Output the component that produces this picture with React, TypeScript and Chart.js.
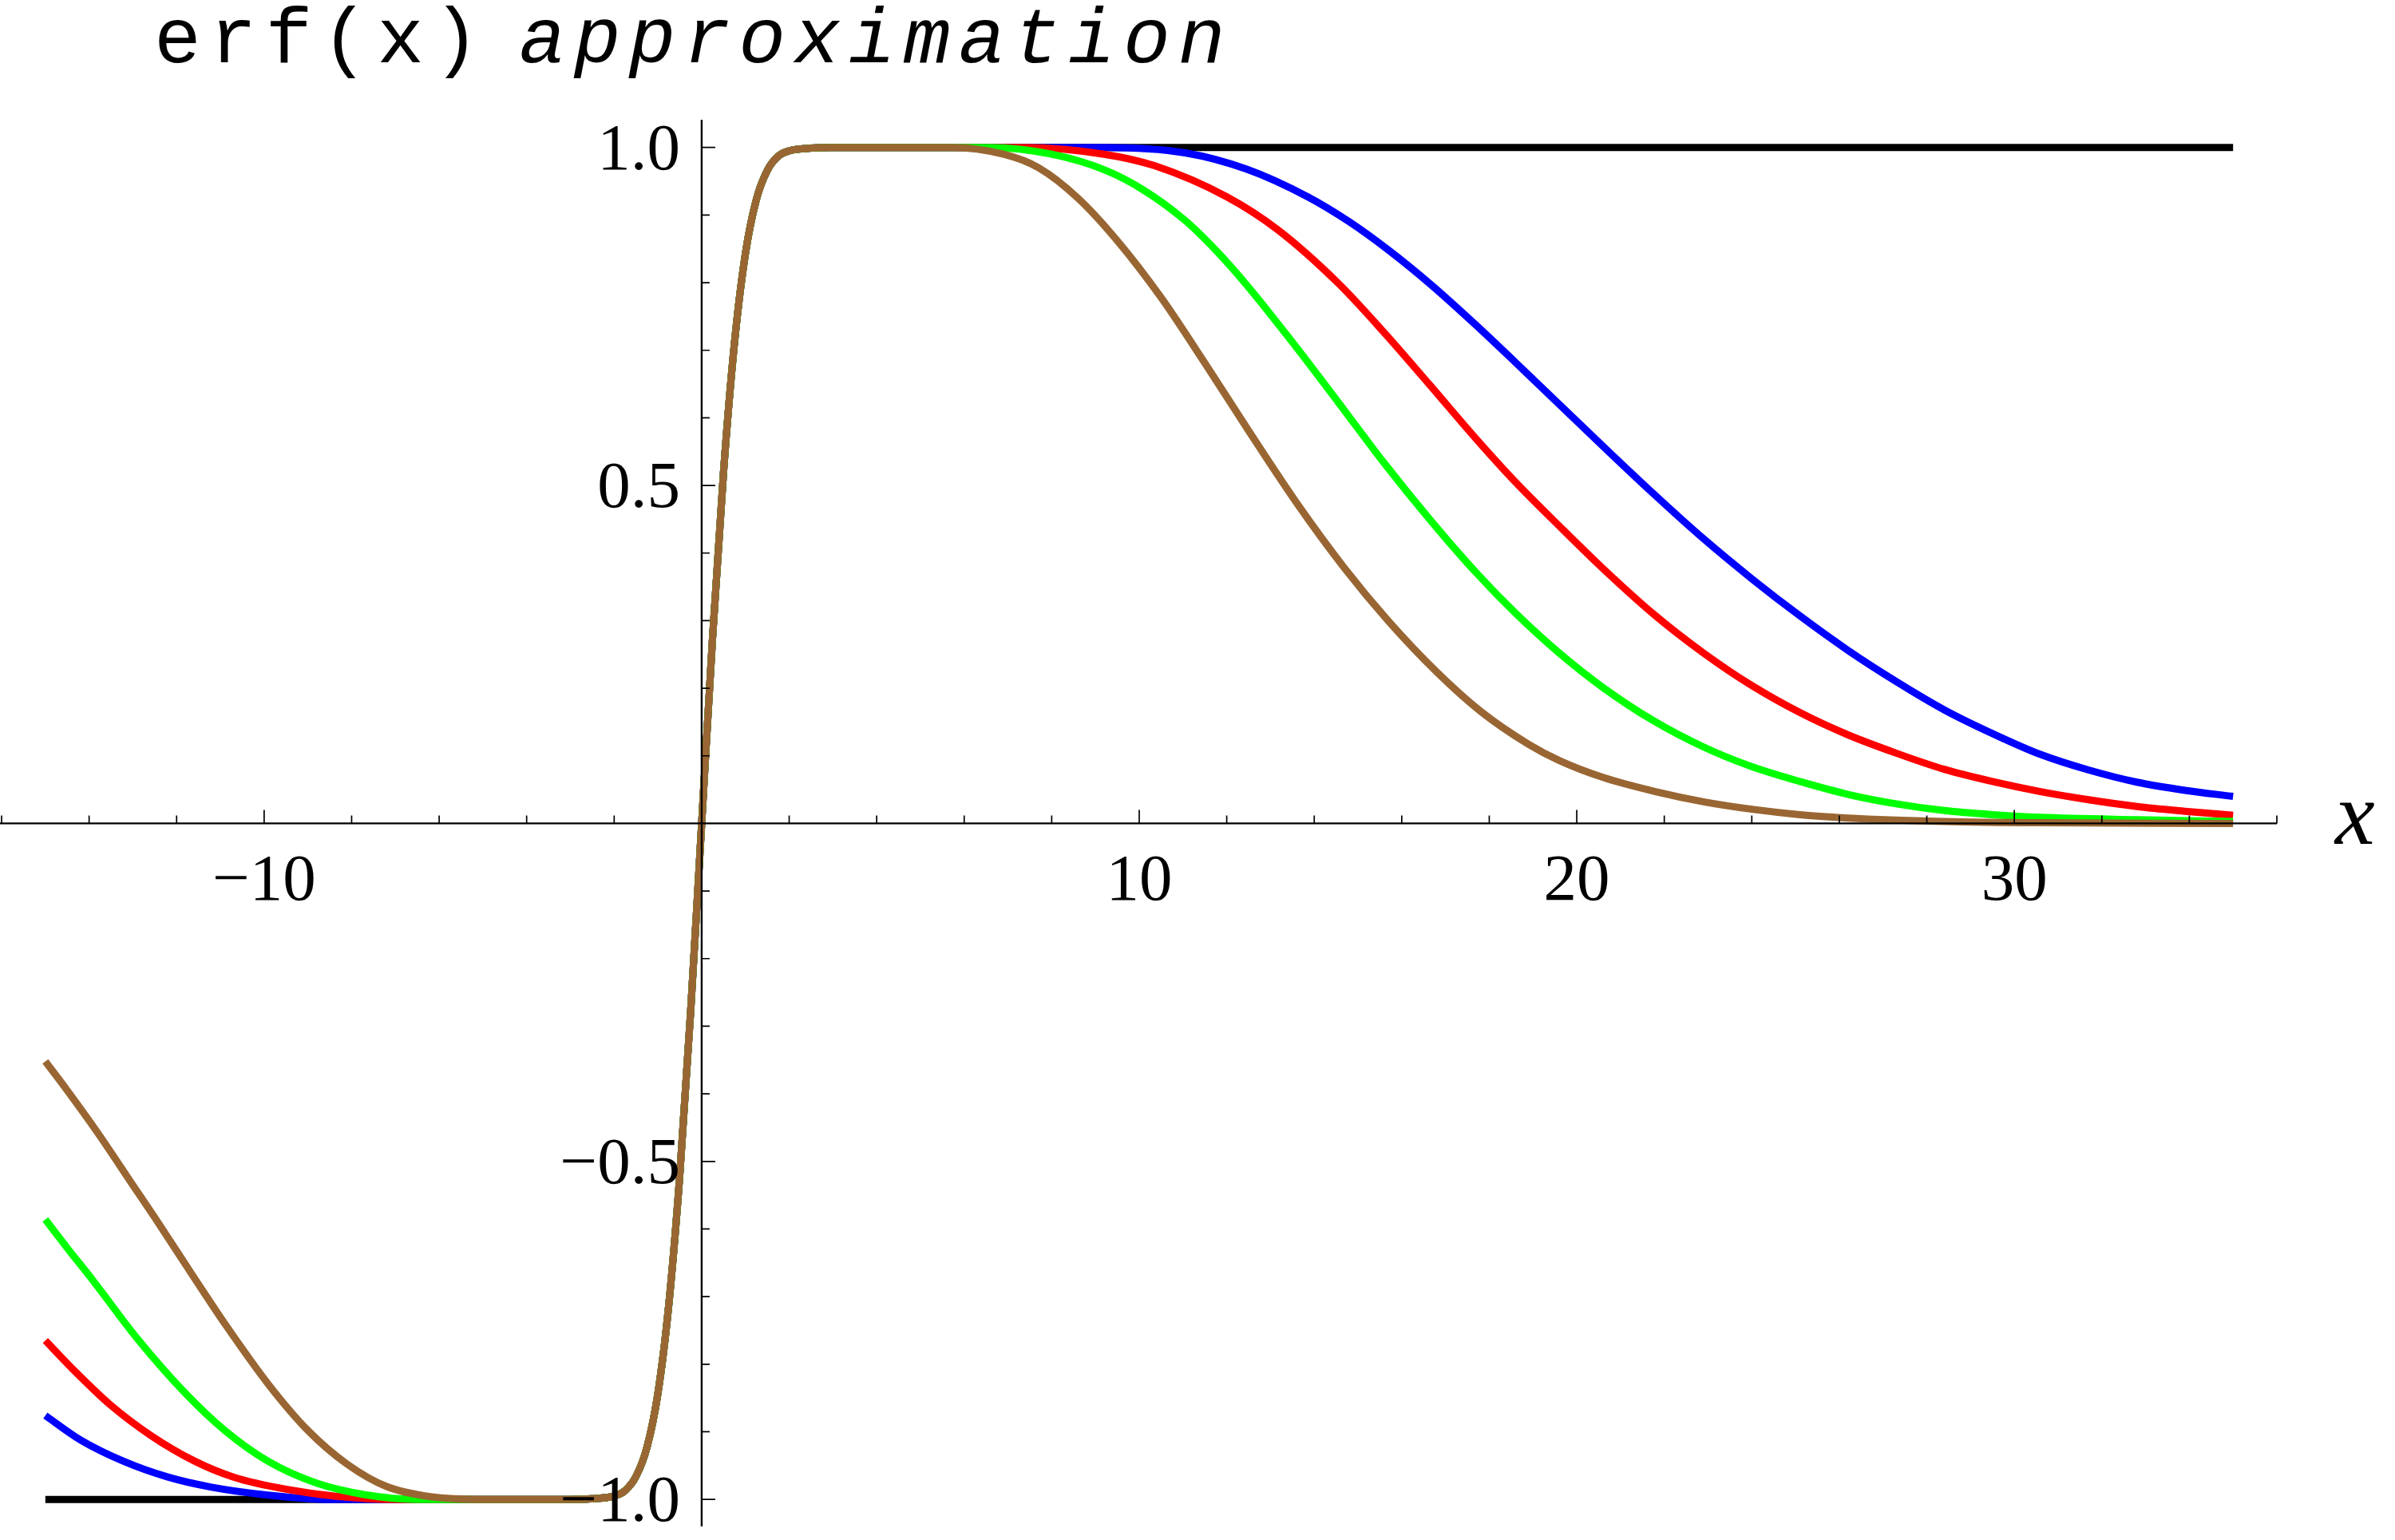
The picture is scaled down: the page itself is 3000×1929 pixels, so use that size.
import React, { useEffect, useRef } from 'react';
import { Chart, registerables } from 'chart.js';

Chart.register(...registerables);

// ---- axis ranges ----
const X_MIN = -16;
const X_MAX = 36;
const Y_MIN = -1.04;
const Y_MAX = 1.041;

// ---- ticks ----
const xMajorTicks = [-10, 10, 20, 30];
const xTickLabels = ['\u221210', '10', '20', '30'];
const xMinorTicks = [-16, -14, -12, -8, -6, -4, -2, 2, 4, 6, 8, 12, 14, 16, 18, 22, 24, 26, 28, 32, 34, 36];
const yMajorTicks = [-1, -0.5, 0.5, 1];
const yTickLabels = ['\u22121.0', '\u22120.5', '0.5', '1.0'];
const yMinorTicks = [-0.9, -0.8, -0.7, -0.6, -0.4, -0.3, -0.2, -0.1, 0.1, 0.2, 0.3, 0.4, 0.6, 0.7, 0.8, 0.9];

// ---- shared steep core (all curves coincide here) ----
const erfCore: [number, number][] = [
  [-2.5, -0.999], [-2, -0.995], [-1.75, -0.987], [-1.5, -0.966], [-1.25, -0.923], [-1, -0.843],
  [-0.75, -0.711], [-0.5, -0.52], [-0.25, -0.276], [0, 0], [0.25, 0.276], [0.5, 0.52],
  [0.75, 0.711], [1, 0.843], [1.25, 0.923], [1.5, 0.966], [1.75, 0.987], [2, 0.995], [2.5, 0.999],
];

// ---- black ----
const blackLeft: [number, number][] = [[-15, -1], [-3, -1]];
const blackRight: [number, number][] = [[3, 1], [35, 1]];

// ---- blue ----
const blueLeft: [number, number][] = [
  [-15, -0.876], [-14.2, -0.912], [-13.2, -0.944], [-12.2, -0.967], [-11.2, -0.982], [-10, -0.993],
  [-8.5, -1], [-3, -1],
];
const blueRight: [number, number][] = [
  [3, 1], [9.2, 1], [11.05, 0.992], [12.45, 0.968], [13.85, 0.927], [14.8, 0.89], [15.7, 0.848],
  [16.65, 0.798], [17.7, 0.737], [18.6, 0.682], [19.6, 0.62], [20.6, 0.558], [21.75, 0.488],
  [22.9, 0.421], [24, 0.362], [25.1, 0.307], [26.2, 0.256], [27.3, 0.21], [28.4, 0.168],
  [29.5, 0.133], [30.6, 0.102], [31.7, 0.079], [32.8, 0.061], [33.9, 0.049], [35, 0.04],
];

// ---- red ----
const redLeft: [number, number][] = [
  [-15, -0.765], [-14.3, -0.812], [-13.5, -0.861], [-12.6, -0.905], [-11.6, -0.943], [-10.7, -0.967],
  [-9.5, -0.985], [-8.4, -0.995], [-7, -1], [-3, -1],
];
const redRight: [number, number][] = [
  [3, 1], [7.4, 1], [9.2, 0.99], [10.35, 0.973], [12, 0.927], [13.15, 0.879], [14.55, 0.799],
  [15.6, 0.726], [16.65, 0.648], [17.7, 0.569], [18.6, 0.505], [19.6, 0.44], [20.6, 0.377],
  [21.75, 0.31], [22.9, 0.252], [24, 0.204], [25.1, 0.164], [26.2, 0.131], [27.3, 0.104],
  [28.4, 0.08], [29.5, 0.062], [30.6, 0.047], [31.7, 0.035], [32.8, 0.025], [33.9, 0.018], [35, 0.012],
];

// ---- green ----
const greenLeft: [number, number][] = [
  [-15, -0.586], [-14.5, -0.628], [-13.9, -0.677], [-12.9, -0.762], [-11.8, -0.843], [-10.9, -0.898],
  [-9.9, -0.944], [-8.8, -0.976], [-7.7, -0.993], [-6.5, -1], [-3, -1],
];
const greenRight: [number, number][] = [
  [3, 1], [6.6, 1], [8, 0.99], [9.2, 0.967], [10.1, 0.937], [11.05, 0.892], [11.75, 0.848],
  [12.45, 0.797], [13.5, 0.712], [14.55, 0.623], [15.6, 0.533], [16.65, 0.449], [17.7, 0.371],
  [18.6, 0.311], [19.6, 0.252], [20.6, 0.201], [21.75, 0.152], [22.9, 0.113], [24, 0.084],
  [25.1, 0.062], [26.2, 0.043], [27.3, 0.029], [28.4, 0.019], [29.5, 0.013], [30.6, 0.009],
  [32.8, 0.0055], [35, 0.003],
];

// ---- brown ----
const brownLeft: [number, number][] = [
  [-15, -0.352], [-14.5, -0.395], [-13.8, -0.458], [-13, -0.535], [-12.5, -0.583], [-11.6, -0.672],
  [-10.9, -0.74], [-9.9, -0.83], [-9, -0.898], [-8.1, -0.948], [-7.2, -0.981], [-6.2, -0.996],
  [-5, -1], [-3, -1],
];
const brownRight: [number, number][] = [
  [3, 1], [5.7, 1], [6.9, 0.99], [7.7, 0.97], [8.6, 0.925], [9.5, 0.862], [10.5, 0.778],
  [11.5, 0.681], [12.5, 0.581], [13.6, 0.474], [14.7, 0.377], [15.7, 0.299], [16.8, 0.224],
  [17.8, 0.166], [18.9, 0.117], [19.6, 0.093], [20.6, 0.068], [21.8, 0.047], [22.9, 0.032],
  [24, 0.021], [25.1, 0.013], [26.2, 0.008], [28.4, 0.003], [30.6, 0.001], [35, 0],
];

const seriesColors = {
  brown: '#996633',
  green: '#00FF00',
  red: '#FF0000',
  blue: '#0000FF',
  black: '#000000',
};

const toPoints = (parts: [number, number][][]) =>
  parts.flat().map(([x, y]) => ({ x, y }));

const axesPlugin = {
  id: 'mmaAxes',
  afterDatasetsDraw(chart: any) {
    const { ctx, chartArea, scales } = chart;
    const xs = scales.x;
    const ys = scales.y;
    const x0 = xs.getPixelForValue(0);
    const y0 = ys.getPixelForValue(0);
    ctx.save();
    ctx.strokeStyle = '#000';
    ctx.lineWidth = 2.4;
    ctx.beginPath();
    ctx.moveTo(chartArea.left - 2, y0);
    ctx.lineTo(chartArea.right, y0);
    ctx.moveTo(x0, chartArea.top);
    ctx.lineTo(x0, chartArea.bottom);
    ctx.stroke();

    ctx.lineWidth = 1.7;
    ctx.beginPath();
    xMinorTicks.forEach((v) => {
      const p = xs.getPixelForValue(v);
      ctx.moveTo(p, y0);
      ctx.lineTo(p, y0 - 10);
    });
    xMajorTicks.forEach((v) => {
      const p = xs.getPixelForValue(v);
      ctx.moveTo(p, y0);
      ctx.lineTo(p, y0 - 17);
    });
    yMinorTicks.forEach((v) => {
      const p = ys.getPixelForValue(v);
      ctx.moveTo(x0, p);
      ctx.lineTo(x0 + 10, p);
    });
    yMajorTicks.forEach((v) => {
      const p = ys.getPixelForValue(v);
      ctx.moveTo(x0, p);
      ctx.lineTo(x0 + 17, p);
    });
    ctx.stroke();

    ctx.fillStyle = '#000';
    ctx.font = '83px "Liberation Serif"';
    ctx.textBaseline = 'alphabetic';
    ctx.textAlign = 'center';
    xMajorTicks.forEach((v, i) => {
      ctx.fillText(xTickLabels[i], xs.getPixelForValue(v), y0 + 96);
    });
    ctx.textAlign = 'right';
    yMajorTicks.forEach((v, i) => {
      ctx.fillText(yTickLabels[i], x0 - 27, ys.getPixelForValue(v) + 27);
    });

    ctx.textAlign = 'left';
    ctx.font = 'italic 112px "Liberation Serif"';
    ctx.fillText('x', chartArea.right + 73, y0 + 26);

    // title
    ctx.font = '98px "Liberation Mono"';
    (ctx as any).letterSpacing = '11px';
    ctx.fillText('erf(x)', 193, 78);
    ctx.font = 'italic 98px "Liberation Mono"';
    (ctx as any).letterSpacing = '10px';
    ctx.fillText('approximation', 650, 78);
    ctx.restore();
  },
};

export default function App() {
  const canvasRef = useRef<HTMLCanvasElement | null>(null);

  useEffect(() => {
    const canvas = canvasRef.current;
    if (!canvas) return;
    const common = {
      pointRadius: 0,
      borderWidth: 9,
      fill: false,
      cubicInterpolationMode: 'monotone' as const,
    };
    const chart = new Chart(canvas, {
      type: 'line',
      data: {
        datasets: [
          { ...common, label: 'brown', borderColor: seriesColors.brown, data: toPoints([brownLeft, erfCore, brownRight]) },
          { ...common, label: 'green', borderColor: seriesColors.green, data: toPoints([greenLeft, erfCore, greenRight]) },
          { ...common, label: 'red', borderColor: seriesColors.red, data: toPoints([redLeft, erfCore, redRight]) },
          { ...common, label: 'blue', borderColor: seriesColors.blue, data: toPoints([blueLeft, erfCore, blueRight]) },
          { ...common, label: 'black', borderColor: seriesColors.black, data: toPoints([blackLeft, erfCore, blackRight]) },
        ],
      },
      options: {
        animation: false,
        responsive: false,
        devicePixelRatio: 1,
        layout: { padding: { left: 2, right: 148, top: 150, bottom: 17 } },
        plugins: { legend: { display: false }, title: { display: false }, tooltip: { enabled: false } },
        scales: {
          x: { type: 'linear', min: X_MIN, max: X_MAX, display: false },
          y: { type: 'linear', min: Y_MIN, max: Y_MAX, display: false },
        },
      },
      plugins: [axesPlugin],
    });
    return () => chart.destroy();
  }, []);

  return (
    <div style={{ position: 'absolute', left: 0, top: 0, width: 3000, height: 1929, background: '#fff' }}>
      <canvas ref={canvasRef} width={3000} height={1929} style={{ width: 3000, height: 1929, display: 'block' }} />
    </div>
  );
}
